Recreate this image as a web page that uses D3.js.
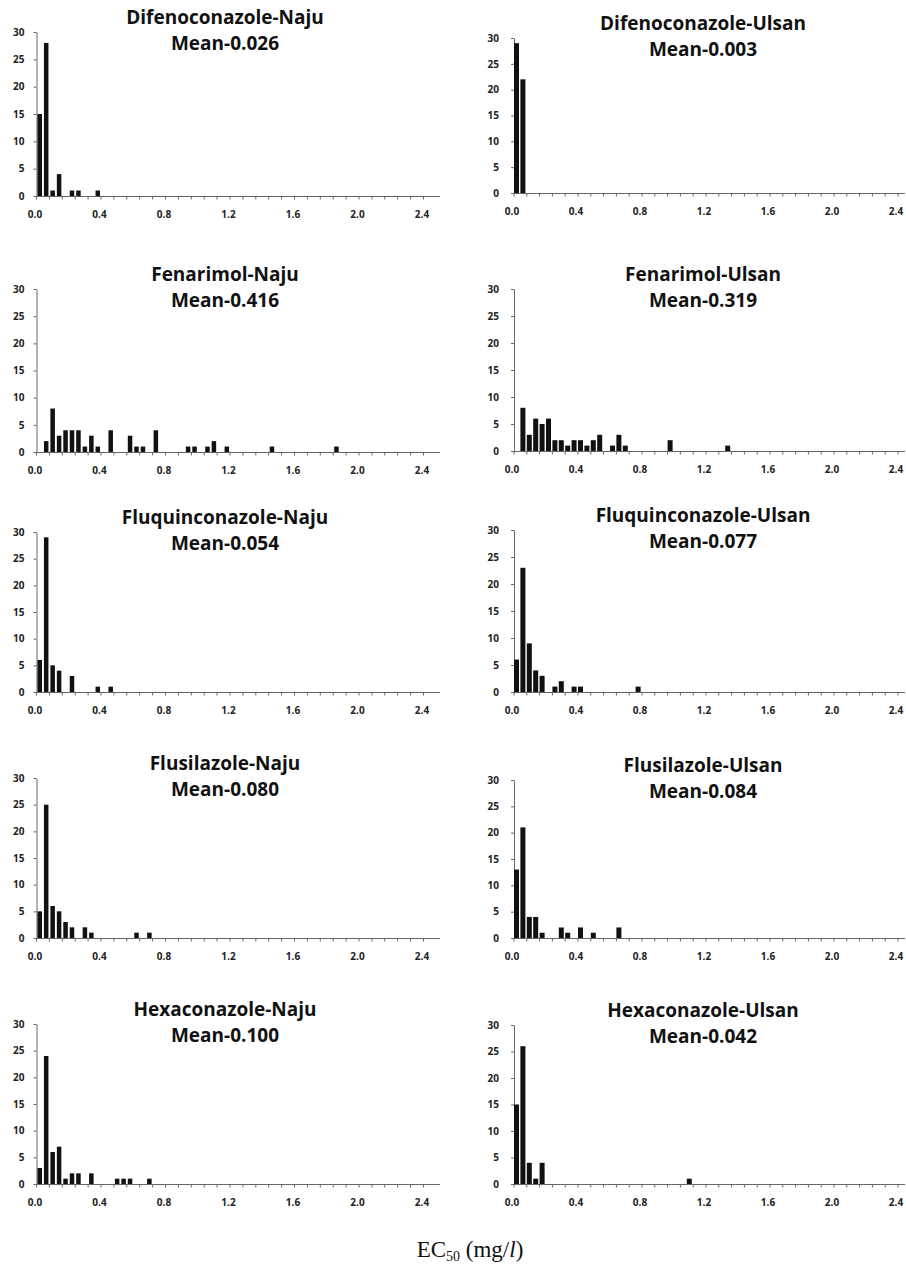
<!DOCTYPE html>
<html>
<head>
<meta charset="utf-8">
<title>EC50 distributions</title>
<script src="https://d3js.org/d3.v7.min.js"></script>
<style>
  body { margin: 0; background: #fff; }
  svg text { font-family: "Open Sans", sans-serif; }
  .title { font-size: 19px; font-weight: 700; fill: #111; }
  .axis text { font-family: "Open Sans", sans-serif; font-size: 10px; font-weight: 700; fill: #222; }
  .axis path, .axis line { stroke: #666; }
  .xlabel { font-family: "Liberation Serif", serif; font-size: 23px; fill: #111; }
</style>
</head>
<body>
<svg id="chart" width="906" height="1267"></svg>
<script>
// axis ticks
const yTicks = [0, 5, 10, 15, 20, 25, 30];
const xTickLabels = [0.0, 0.4, 0.8, 1.2, 1.6, 2.0, 2.4];

// panel titles
const panelNames = ["Difenoconazole-Naju", "Difenoconazole-Ulsan", "Fenarimol-Naju", "Fenarimol-Ulsan",
  "Fluquinconazole-Naju", "Fluquinconazole-Ulsan", "Flusilazole-Naju", "Flusilazole-Ulsan",
  "Hexaconazole-Naju", "Hexaconazole-Ulsan"];
const panelMeans = ["Mean-0.026", "Mean-0.003", "Mean-0.416", "Mean-0.319", "Mean-0.054",
  "Mean-0.077", "Mean-0.080", "Mean-0.084", "Mean-0.100", "Mean-0.042"];

// histogram bins (lower edge, mg/l) and isolate counts
const difNajuBins = [0.00, 0.04, 0.08, 0.12, 0.20, 0.24, 0.36];
const difNajuCounts = [15, 28, 1, 4, 1, 1, 1];
const difUlsanBins = [0.00, 0.04];
const difUlsanCounts = [29, 22];
const fenNajuBins = [0.04, 0.08, 0.12, 0.16, 0.20, 0.24, 0.28, 0.32, 0.36, 0.44, 0.56, 0.60, 0.64, 0.72,
  0.92, 0.96, 1.04, 1.08, 1.16, 1.44, 1.84];
const fenNajuCounts = [2, 8, 3, 4, 4, 4, 1, 3, 1, 4, 3, 1, 1, 4, 1, 1, 1, 2, 1, 1, 1];
const fenUlsanBins = [0.04, 0.08, 0.12, 0.16, 0.20, 0.24, 0.28, 0.32, 0.36, 0.40, 0.44, 0.48, 0.52,
  0.60, 0.64, 0.68, 0.96, 1.32];
const fenUlsanCounts = [8, 3, 6, 5, 6, 2, 2, 1, 2, 2, 1, 2, 3, 1, 3, 1, 2, 1];
const fluqNajuBins = [0.00, 0.04, 0.08, 0.12, 0.20, 0.36, 0.44];
const fluqNajuCounts = [6, 29, 5, 4, 3, 1, 1];
const fluqUlsanBins = [0.00, 0.04, 0.08, 0.12, 0.16, 0.24, 0.28, 0.36, 0.40, 0.76];
const fluqUlsanCounts = [6, 23, 9, 4, 3, 1, 2, 1, 1, 1];
const flusNajuBins = [0.00, 0.04, 0.08, 0.12, 0.16, 0.20, 0.28, 0.32, 0.60, 0.68];
const flusNajuCounts = [5, 25, 6, 5, 3, 2, 2, 1, 1, 1];
const flusUlsanBins = [0.00, 0.04, 0.08, 0.12, 0.16, 0.28, 0.32, 0.40, 0.48, 0.64];
const flusUlsanCounts = [13, 21, 4, 4, 1, 2, 1, 2, 1, 2];
const hexNajuBins = [0.00, 0.04, 0.08, 0.12, 0.16, 0.20, 0.24, 0.32, 0.48, 0.52, 0.56, 0.68];
const hexNajuCounts = [3, 24, 6, 7, 1, 2, 2, 2, 1, 1, 1, 1];
const hexUlsanBins = [0.00, 0.04, 0.08, 0.12, 0.16, 1.08];
const hexUlsanCounts = [15, 26, 4, 1, 4, 1];

const panelBins = [difNajuBins, difUlsanBins, fenNajuBins, fenUlsanBins, fluqNajuBins,
  fluqUlsanBins, flusNajuBins, flusUlsanBins, hexNajuBins, hexUlsanBins];
const panelCounts = [difNajuCounts, difUlsanCounts, fenNajuCounts, fenUlsanCounts, fluqNajuCounts,
  fluqUlsanCounts, flusNajuCounts, flusUlsanCounts, hexNajuCounts, hexUlsanCounts];

// layout: left / right column, plot top and baseline per panel
const cols = [
  { x0: 36, bw: 6.45, barOff: 1.5, barW: 4.5, labOff: -1, axisEnd: 440, titleX: 225 },
  { x0: 513.5, bw: 6.4, barOff: 0.5, barW: 5, labOff: -1.5, axisEnd: 905, titleX: 703 }
];
const tops = [32, 38, 289, 289, 532, 530, 778, 780, 1024, 1025];
const bases = [196, 193, 452, 451, 692, 692, 938, 938, 1184, 1184];

const svg = d3.select("#chart");

panelNames.forEach(function (name, i) {
  const c = cols[i % 2];
  const top = tops[i], base = bases[i];
  const g = svg.append("g");

  const x = d3.scaleLinear().domain([0, 2.4]).range([c.x0, c.x0 + 60 * c.bw]);
  const y = d3.scaleLinear().domain([0, 30]).range([base, top]);

  // x axis: line runs one bin past 2.4, ticks every 0.08
  g.append("line")
    .attr("x1", c.x0).attr("x2", c.axisEnd)
    .attr("y1", base + 0.5).attr("y2", base + 0.5)
    .attr("stroke", "#666");
  const xAxis = g.append("g")
    .attr("class", "axis")
    .attr("transform", "translate(0," + (base + 0.5) + ")")
    .call(d3.axisBottom(x)
      .tickValues(d3.range(0, 31).map(function (k) { return k * 0.08; }))
      .tickSize(3)
      .tickFormat(function () { return ""; }));
  xAxis.select(".domain").remove();

  g.append("g")
    .attr("class", "axis")
    .selectAll("text")
    .data(xTickLabels)
    .enter()
    .append("text")
    .attr("x", function (d) { return x(d) + c.labOff; })
    .attr("y", base + 22)
    .attr("text-anchor", "middle")
    .text(function (d) { return d.toFixed(1); });

  // y axis
  g.append("g")
    .attr("class", "axis")
    .attr("transform", "translate(" + (c.x0 + 0.5) + ",0)")
    .call(d3.axisLeft(y).tickValues(yTicks).tickSize(3).tickSizeOuter(0).tickPadding(i % 2 ? 12 : 9));

  // bars
  g.selectAll(".bar")
    .data(panelBins[i].map(function (b, k) { return { bin: b, count: panelCounts[i][k] }; }))
    .enter()
    .append("rect")
    .attr("class", "bar")
    .attr("x", function (d) { return x(d.bin) + c.barOff; })
    .attr("width", c.barW)
    .attr("y", function (d) { return y(d.count); })
    .attr("height", function (d) { return base - y(d.count); })
    .attr("fill", "#111");

  // titles
  g.append("text")
    .attr("class", "title")
    .attr("x", c.titleX).attr("y", top - 15).attr("dy", "0.35em")
    .attr("text-anchor", "middle")
    .text(name);
  g.append("text")
    .attr("class", "title")
    .attr("x", c.titleX).attr("y", top + 11).attr("dy", "0.35em")
    .attr("text-anchor", "middle")
    .text(panelMeans[i]);
});

// shared x label
const xl = svg.append("text")
  .attr("class", "xlabel")
  .attr("x", 470).attr("y", 1257)
  .attr("text-anchor", "middle");
xl.append("tspan").text("EC");
xl.append("tspan").attr("font-size", "14px").attr("dy", 4).text("50");
xl.append("tspan").attr("dy", -4).text(" (mg/");
xl.append("tspan").attr("font-style", "italic").text("l");
xl.append("tspan").text(")");
</script>
</body>
</html>
